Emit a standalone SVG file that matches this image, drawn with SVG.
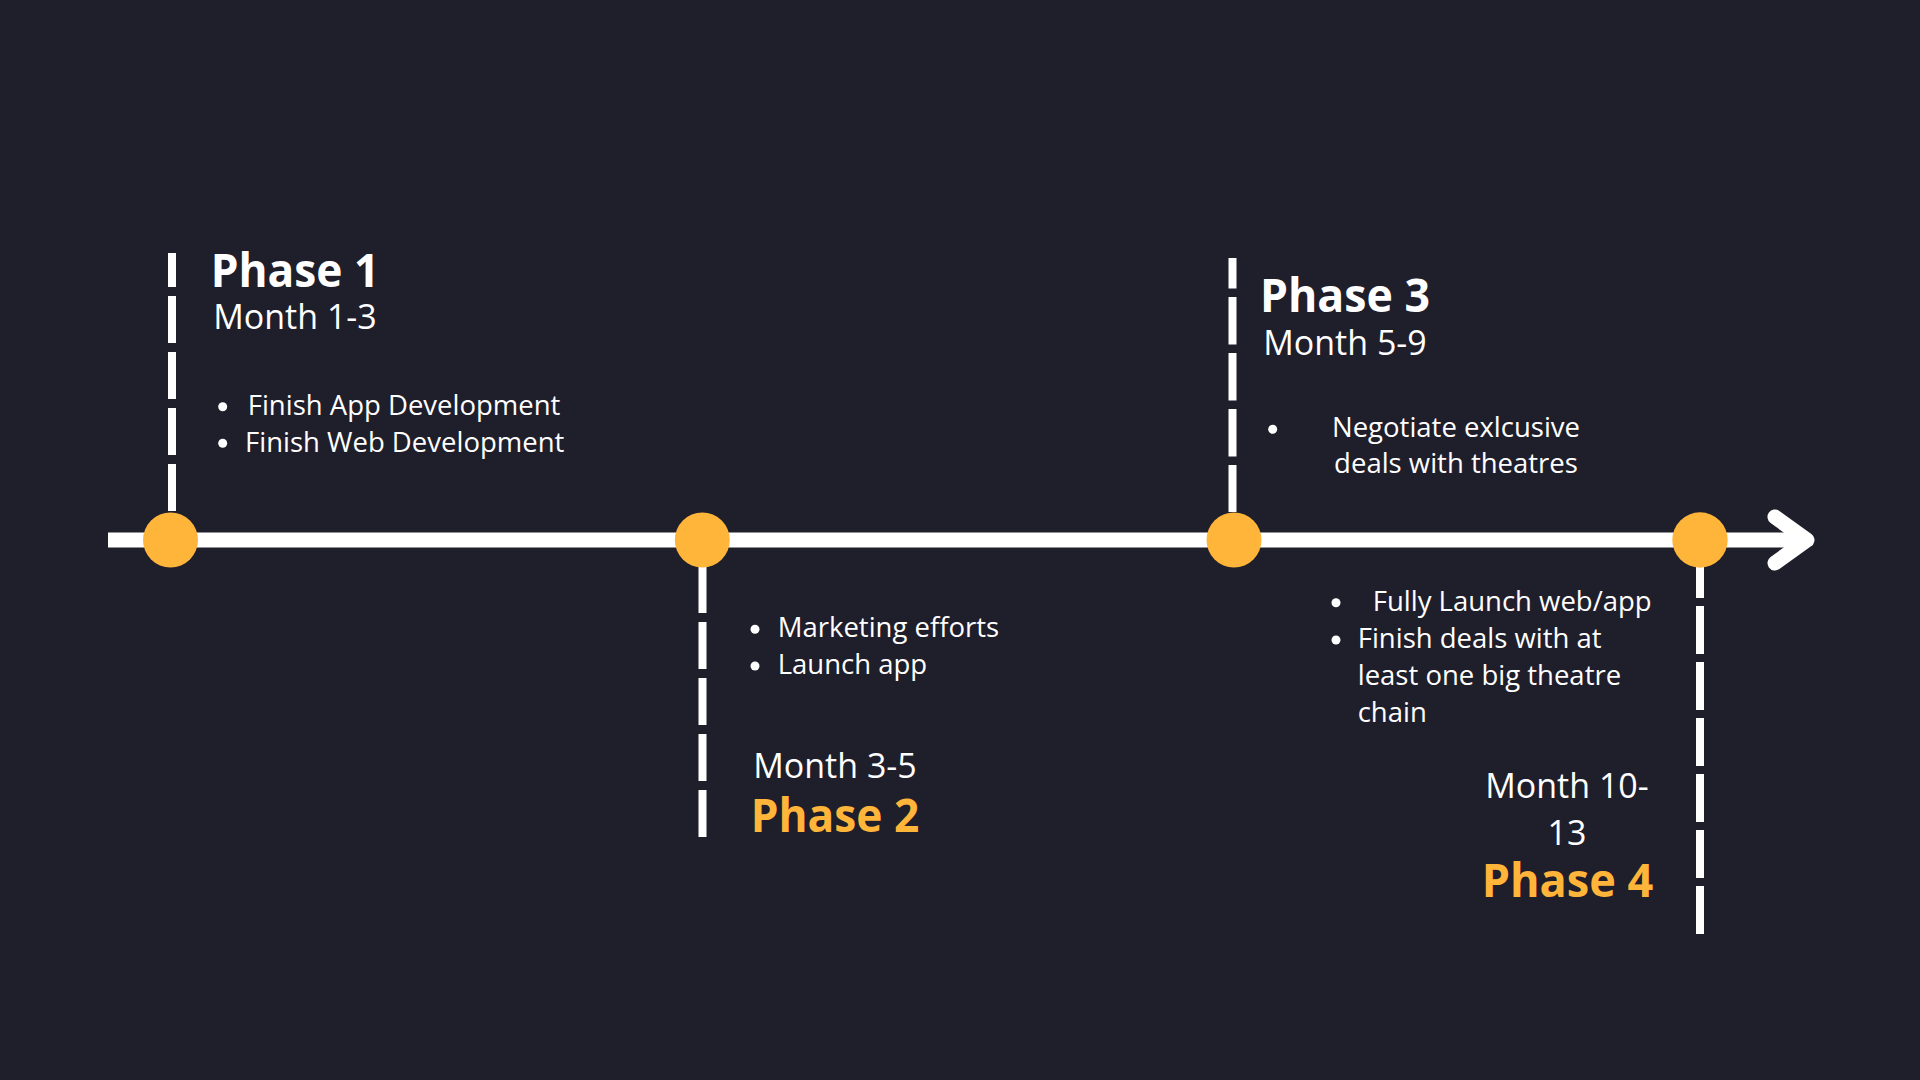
<svg xmlns="http://www.w3.org/2000/svg" width="1920" height="1080" viewBox="0 0 1920 1080">
<style>
.bg{fill:#1f1e2b}
.dash{stroke:#ffffff;stroke-width:8;fill:none}
.dot{fill:#ffb43a}
.bul{fill:#ffffff}
.ph{font-family:"Open Sans","Noto Sans",sans-serif;font-weight:700;font-size:47px;text-anchor:middle}
.mo{font-family:"Open Sans","Noto Sans",sans-serif;font-size:34px;fill:#ffffff;text-anchor:middle}
.it{font-family:"Open Sans","Noto Sans",sans-serif;font-size:27.5px;fill:#ffffff}
.w{fill:#ffffff}
.o{fill:#ffb43a}
</style>
<rect class="bg" x="0" y="0" width="1920" height="1080"/>
<g id="connectors">
<line x1="108" y1="540" x2="1800" y2="540" stroke="#ffffff" stroke-width="15"/>
<polyline points="1775,517 1807,540 1775,563" fill="none" stroke="#ffffff" stroke-width="15" stroke-linecap="round" stroke-linejoin="round"/>
</g>
<g id="phase1">
<line class="dash" x1="172" y1="253" x2="172" y2="512" stroke-dasharray="47 9" stroke-dashoffset="13"/>
<circle class="dot" cx="170.5" cy="540" r="27.5"/>
<text class="ph w" x="295" y="287" textLength="168.6" lengthAdjust="spacingAndGlyphs">Phase 1</text>
<text class="mo" x="295" y="329">Month 1-3</text>
<circle class="bul" cx="222.7" cy="406.7" r="4.5"/>
<text class="it" x="247.7" y="415">Finish App Development</text>
<circle class="bul" cx="222.7" cy="443.3" r="4.5"/>
<text class="it" x="245" y="451.7">Finish Web Development</text>
</g>
<g id="phase2">
<line class="dash" x1="702.5" y1="566" x2="702.5" y2="837" stroke-dasharray="47 9"/>
<circle class="dot" cx="702.3" cy="540" r="27.5"/>
<circle class="bul" cx="755" cy="629.3" r="4.5"/>
<text class="it" x="777.7" y="637.3">Marketing efforts</text>
<circle class="bul" cx="755" cy="666" r="4.5"/>
<text class="it" x="777.7" y="674.3">Launch app</text>
<text class="mo" x="835" y="778.3">Month 3-5</text>
<text class="ph o" x="835" y="831.7" textLength="168.6" lengthAdjust="spacingAndGlyphs">Phase 2</text>
</g>
<g id="phase3">
<line class="dash" x1="1232.5" y1="258" x2="1232.5" y2="512" stroke-dasharray="47.5 8.5" stroke-dashoffset="17"/>
<circle class="dot" cx="1234" cy="540" r="27.5"/>
<text class="ph w" x="1345" y="312.3" textLength="170" lengthAdjust="spacingAndGlyphs">Phase 3</text>
<text class="mo" x="1345" y="355">Month 5-9</text>
<circle class="bul" cx="1272.7" cy="429.3" r="4.5"/>
<text class="it" x="1456" y="436.7" text-anchor="middle">Negotiate exlcusive</text>
<text class="it" x="1456" y="473.3" text-anchor="middle">deals with theatres</text>
</g>
<g id="phase4">
<line class="dash" x1="1700" y1="550" x2="1700" y2="934" stroke-dasharray="48 8"/>
<circle class="dot" cx="1700" cy="540" r="27.7"/>
<circle class="bul" cx="1336" cy="602.7" r="4.5"/>
<text class="it" x="1372.7" y="610.7">Fully Launch web/app</text>
<circle class="bul" cx="1336" cy="640" r="4.5"/>
<text class="it" x="1357.7" y="647.7">Finish deals with at</text>
<text class="it" x="1357.7" y="685">least one big theatre</text>
<text class="it" x="1357.7" y="721.7">chain</text>
<text class="mo" x="1567" y="798.3">Month 10-</text>
<text class="mo" x="1567" y="845">13</text>
<text class="ph o" x="1567.5" y="897.3" textLength="171.6" lengthAdjust="spacingAndGlyphs">Phase 4</text>
</g>
</svg>
